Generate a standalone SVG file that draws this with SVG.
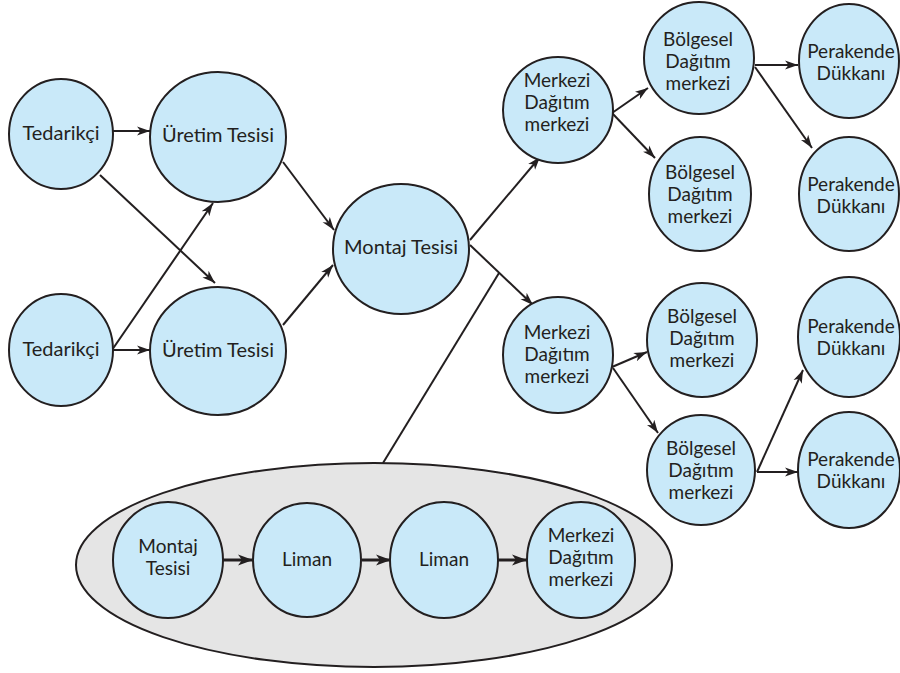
<svg xmlns="http://www.w3.org/2000/svg" width="900" height="673" viewBox="0 0 900 673">
<defs>
<marker id="ah" markerUnits="userSpaceOnUse" markerWidth="14" markerHeight="10" refX="13" refY="5" orient="auto">
<path d="M0,0.5 L13,5 L0,9.5 L3.5,5 z" fill="#231f20"/>
</marker>
<marker id="ahb" markerUnits="userSpaceOnUse" markerWidth="16" markerHeight="12" refX="15" refY="6" orient="auto">
<path d="M0,0.5 L15,6 L0,11.5 L4,6 z" fill="#231f20"/>
</marker>
<style>
.n{fill:#c9e9f9;stroke:#231f20;stroke-width:2}
.c{stroke:#231f20;stroke-width:2;fill:none}
.ci{stroke:#231f20;stroke-width:3;fill:none}
text{font-family:Lato,"Liberation Sans",sans-serif;font-size:20px;fill:#231f20;text-anchor:middle}
.s{font-size:19px}
</style>
</defs>
<rect width="900" height="673" fill="#ffffff"/>
<g id="group">
<ellipse cx="374" cy="565" rx="298" ry="102" fill="#e5e5e5" stroke="#231f20" stroke-width="2"/>
</g>
<g id="connectors">
<line class="c" x1="112" y1="131" x2="150" y2="131" marker-end="url(#ah)"/>
<line class="c" x1="100" y1="175" x2="215" y2="283" marker-end="url(#ah)"/>
<line class="c" x1="112" y1="350" x2="213" y2="203" marker-end="url(#ah)"/>
<line class="c" x1="112" y1="350" x2="150" y2="350" marker-end="url(#ah)"/>
<line class="c" x1="283" y1="162" x2="334" y2="230" marker-end="url(#ah)"/>
<line class="c" x1="283" y1="325" x2="333" y2="265" marker-end="url(#ah)"/>
<line class="c" x1="470" y1="240" x2="540" y2="157" marker-end="url(#ah)"/>
<line class="c" x1="470" y1="245" x2="533" y2="305" marker-end="url(#ah)"/>
<line class="c" x1="499" y1="273" x2="383" y2="463"/>
<line class="c" x1="612" y1="113" x2="648" y2="88" marker-end="url(#ah)"/>
<line class="c" x1="612" y1="113" x2="655" y2="158" marker-end="url(#ah)"/>
<line class="c" x1="755" y1="65" x2="798" y2="65" marker-end="url(#ah)"/>
<line class="c" x1="755" y1="67" x2="812" y2="148" marker-end="url(#ah)"/>
<line class="c" x1="612" y1="367" x2="647" y2="352" marker-end="url(#ah)"/>
<line class="c" x1="613" y1="368" x2="658" y2="433" marker-end="url(#ah)"/>
<line class="c" x1="757" y1="472" x2="803" y2="370" marker-end="url(#ah)"/>
<line class="c" x1="757" y1="472" x2="798" y2="472" marker-end="url(#ah)"/>
<line class="ci" x1="223" y1="560" x2="253" y2="560" marker-end="url(#ahb)"/>
<line class="ci" x1="362" y1="560" x2="391" y2="560" marker-end="url(#ahb)"/>
<line class="ci" x1="498" y1="560" x2="527" y2="560" marker-end="url(#ahb)"/>
</g>
<g id="tedarikci1"><ellipse class="n" cx="61" cy="134" rx="52" ry="55"/><text x="61" y="140">Tedarikçi</text></g>
<g id="uretim1"><ellipse class="n" cx="218" cy="137" rx="68" ry="65"/><text x="218" y="142">Üretim Tesisi</text></g>
<g id="tedarikci2"><ellipse class="n" cx="61" cy="350" rx="52" ry="56"/><text x="61" y="356">Tedarikçi</text></g>
<g id="uretim2"><ellipse class="n" cx="218" cy="351" rx="68" ry="64"/><text x="218" y="357">Üretim Tesisi</text></g>
<g id="montaj"><ellipse class="n" cx="401" cy="249" rx="68" ry="65"/><text x="401" y="254">Montaj Tesisi</text></g>
<g id="merkezi1"><ellipse class="n" cx="558" cy="110" rx="55" ry="53"/><text class="s" x="557" y="87">Merkezi</text><text class="s" x="557" y="109">Dağıtım</text><text class="s" x="557" y="131">merkezi</text></g>
<g id="bolgesel1"><ellipse class="n" cx="699" cy="58" rx="55" ry="56"/><text class="s" x="698" y="46">Bölgesel</text><text class="s" x="698" y="68">Dağıtım</text><text class="s" x="698" y="90">merkezi</text></g>
<g id="bolgesel2"><ellipse class="n" cx="700" cy="194" rx="51" ry="57"/><text class="s" x="700" y="179">Bölgesel</text><text class="s" x="700" y="201">Dağıtım</text><text class="s" x="700" y="223">merkezi</text></g>
<g id="perakende1"><ellipse class="n" cx="849" cy="61" rx="50" ry="57"/><text class="s" x="851" y="58">Perakende</text><text class="s" x="851" y="80">Dükkanı</text></g>
<g id="perakende2"><ellipse class="n" cx="849" cy="194" rx="50" ry="57"/><text class="s" x="851" y="191">Perakende</text><text class="s" x="851" y="213">Dükkanı</text></g>
<g id="merkezi2"><ellipse class="n" cx="558" cy="355" rx="55" ry="58"/><text class="s" x="557" y="339">Merkezi</text><text class="s" x="557" y="361">Dağıtım</text><text class="s" x="557" y="383">merkezi</text></g>
<g id="bolgesel3"><ellipse class="n" cx="702" cy="340" rx="55" ry="57"/><text class="s" x="702" y="323">Bölgesel</text><text class="s" x="702" y="345">Dağıtım</text><text class="s" x="702" y="367">merkezi</text></g>
<g id="bolgesel4"><ellipse class="n" cx="701" cy="470" rx="54" ry="55"/><text class="s" x="701" y="455">Bölgesel</text><text class="s" x="701" y="477">Dağıtım</text><text class="s" x="701" y="499">merkezi</text></g>
<g id="perakende3"><ellipse class="n" cx="849" cy="337" rx="51" ry="60"/><text class="s" x="851" y="333">Perakende</text><text class="s" x="851" y="355">Dükkanı</text></g>
<g id="perakende4"><ellipse class="n" cx="849" cy="470" rx="51" ry="58"/><text class="s" x="851" y="466">Perakende</text><text class="s" x="851" y="488">Dükkanı</text></g>
<g id="inner-montaj"><ellipse class="n" cx="168" cy="560" rx="55" ry="58"/><text class="s" x="168" y="553">Montaj</text><text class="s" x="168" y="575">Tesisi</text></g>
<g id="inner-liman1"><ellipse class="n" cx="307" cy="560" rx="54" ry="57"/><text class="s" x="307" y="566">Liman</text></g>
<g id="inner-liman2"><ellipse class="n" cx="444" cy="560" rx="54" ry="58"/><text class="s" x="444" y="566">Liman</text></g>
<g id="inner-merkezi"><ellipse class="n" cx="581" cy="560" rx="54" ry="58"/><text class="s" x="581" y="542">Merkezi</text><text class="s" x="581" y="564">Dağıtım</text><text class="s" x="581" y="586">merkezi</text></g>
</svg>
